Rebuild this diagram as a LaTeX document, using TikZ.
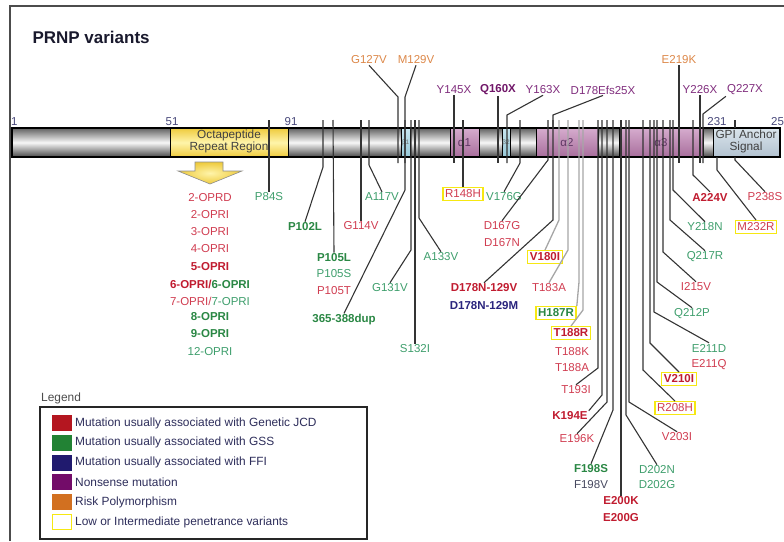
\documentclass[tikz,border=0pt]{standalone}
\usepackage{fontspec}
\setmainfont{Liberation Sans}
\usetikzlibrary{positioning}

\definecolor{jcdred}{RGB}{208,60,80}
\definecolor{jcddark}{RGB}{192,28,48}
\definecolor{gssgreen}{RGB}{62,158,108}
\definecolor{gssdark}{RGB}{42,135,68}
\definecolor{ffiblue}{RGB}{42,36,125}
\definecolor{nonpurple}{RGB}{128,45,125}
\definecolor{nondark}{RGB}{112,22,104}
\definecolor{riskorange}{RGB}{220,135,72}
\definecolor{penyellow}{RGB}{246,232,18}
\definecolor{leadgray}{RGB}{52,52,52}
\definecolor{numblue}{RGB}{72,72,122}
\definecolor{f198grey}{RGB}{70,72,95}
\definecolor{octgold}{RGB}{238,202,60}
\definecolor{octlight}{RGB}{255,244,170}
\definecolor{alphatop}{RGB}{214,172,206}
\definecolor{alphabot}{RGB}{168,110,156}
\definecolor{alphatext}{RGB}{95,55,100}
\definecolor{betatop}{RGB}{200,230,240}
\definecolor{betabot}{RGB}{150,200,215}
\definecolor{gpitop}{RGB}{218,228,235}
\definecolor{gpibot}{RGB}{178,194,208}
\definecolor{legtext}{RGB}{45,45,90}
\definecolor{swjcd}{RGB}{180,22,32}
\definecolor{swgss}{RGB}{34,130,52}
\definecolor{swffi}{RGB}{32,26,110}
\definecolor{swnon}{RGB}{115,12,105}
\definecolor{swrisk}{RGB}{210,112,32}

\newcommand\mutfont{\fontsize{11.5}{13}\selectfont}
\newcommand\legfont{\fontsize{11.9}{13}\selectfont}

\begin{document}
\begin{tikzpicture}[x=1pt,y=-1pt,
    mut/.style={font=\mutfont, inner sep=1pt},
    jcd/.style={mut, text=jcdred},
    jcdb/.style={mut, text=jcddark, font=\mutfont\bfseries},
    gss/.style={mut, text=gssgreen},
    gssb/.style={mut, text=gssdark, font=\mutfont\bfseries},
    ffib/.style={mut, text=ffiblue, font=\mutfont\bfseries},
    non/.style={mut, text=nonpurple},
    nonb/.style={mut, text=nondark, font=\mutfont\bfseries},
    risk/.style={mut, text=riskorange},
    pen/.style={draw=penyellow, line width=1.4pt, fill=white, inner sep=2.2pt},
    lead/.style={leadgray, line width=1.1pt},
    soft/.style={black!35, line width=1.3pt},
    num/.style={font=\mutfont, text=numblue, inner sep=0pt}]
    \useasboundingbox (0,0) rectangle (784,541);
    % Ramme og titel
    \draw[line width=1.6pt, black!70] (10,541) -- (10,6) -- (784,6);
    \node[font=\fontsize{17}{20}\selectfont\bfseries, anchor=west, text={rgb,255:red,25;green,25;blue,45}] (title) at (29,37) {PRNP variants};

    % Proteinet som bjaelke
    \shade[top color=black!62, bottom color=black!72, middle color=black!3] (12,128) rectangle (780,157);
    \shadedraw[top color=octgold, bottom color=octgold, middle color=octlight, draw=black] (170,128) rectangle (288,157);
    \shadedraw[top color=betatop, bottom color=betabot, draw=black] (401,128) rectangle (410,157);
    \shadedraw[top color=alphatop, bottom color=alphabot, draw=black] (450,128) rectangle (479,157);
    \shadedraw[top color=betatop, bottom color=betabot, draw=black] (502,128) rectangle (510,157);
    \shadedraw[top color=alphatop, bottom color=alphabot, draw=black] (536,128) rectangle (598,157);
    \shadedraw[top color=alphatop, bottom color=alphabot, draw=black] (619,128) rectangle (703,157);
    \shadedraw[top color=gpitop, bottom color=gpibot, draw=black] (713,128) rectangle (780,157);
    \draw[line width=1.1pt] (12,128) rectangle (780,157);
    \node[font=\fontsize{11.8}{12.5}\selectfont, align=center, text=black!75, inner sep=0pt] (octa) at (229,141.5) {Octapeptide\\Repeat Region};
    \node[font=\fontsize{11.8}{12.5}\selectfont, align=center, text=black!75, inner sep=0pt] (gpi) at (746,141.5) {GPI Anchor\\Signal};
    \node[font=\fontsize{6.5}{7}\selectfont, text=black!55, inner sep=0pt] (b1) at (405.5,142.5) {β1};
    \node[font=\fontsize{6.5}{7}\selectfont, text=black!55, inner sep=0pt] (b2) at (506,142.5) {β2};
    \node[font=\mutfont, text=alphatext, inner sep=0pt] (a1) at (464.5,142.5) {α1};
    \node[font=\mutfont, text=alphatext, inner sep=0pt] (a2) at (567,142.5) {α2};
    \node[font=\mutfont, text=alphatext, inner sep=0pt] (a3) at (661,142.5) {α3};

    % Positioner
    \node[num, anchor=west] (n1) at (11,122) {1};
    \node[num] (n51) at (172,122) {51};
    \node[num] (n91) at (291,122) {91};
    \node[num] (n231) at (717,122) {231};
    \node[num, anchor=west] (n253) at (771,122) {253};

    % Octapeptid-pil og repeats
    \shadedraw[inner color=octlight, outer color=octgold, draw=black!45, line width=0.6pt] (195,162) -- (223,162) -- (223,171) -- (242,171) -- (210,184) -- (178,171) -- (195,171) -- cycle;
    \node[jcd] (opr2d) at (210,198) {2-OPRD};
    \node[jcd] (opr2) at (210,215) {2-OPRI};
    \node[jcd] (opr3) at (210,232) {3-OPRI};
    \node[jcd] (opr4) at (210,249) {4-OPRI};
    \node[jcdb] (opr5) at (210,267) {5-OPRI};
    \node[mut, font=\mutfont\bfseries] (opr6) at (210,284) {\color{jcddark}6-OPRI/\color{gssdark}6-OPRI};
    \node[mut] (opr7) at (210,301) {\color{jcdred}7-OPRI/\color{gssgreen}7-OPRI};
    \node[gssb] (opr8) at (210,317) {8-OPRI};
    \node[gssb] (opr9) at (210,334) {9-OPRI};
    \node[gss] (opr12) at (210,352) {12-OPRI};

    % Mutationer over bjaelken
    \node[risk] (g127v) at (369,60) {G127V};
    \node[risk] (m129v) at (416,60) {M129V};
    \node[risk] (e219k) at (679,60) {E219K};
    \node[non] (y145x) at (454,90) {Y145X};
    \node[nonb] (q160x) at (498,90) {Q160X};
    \node[non] (y163x) at (543,90) {Y163X};
    \node[non] (d178x) at (603,90) {D178Efs25X};
    \node[non] (y226x) at (700,90) {Y226X};
    \node[non] (q227x) at (745,90) {Q227X};

    % Mutationer under bjaelken
    \node[gss] (p84s) at (269,197) {P84S};
    \node[gssb] (p102l) at (305,227) {P102L};
    \node[gssb] (p105l) at (334,258) {P105L};
    \node[gss] (p105s) at (334,274) {P105S};
    \node[jcd] (p105t) at (334,291) {P105T};
    \node[jcd] (g114v) at (361,226) {G114V};
    \node[gss] (a117v) at (382,197) {A117V};
    \node[gssb] (dup) at (344,320) {365-388dup};
    \node[gss] (g131v) at (390,288) {G131V};
    \node[gss] (s132i) at (415,349) {S132I};
    \node[gss] (a133v) at (441,257) {A133V};
    \node[jcd, pen] (r148h) at (463,194) {R148H};
    \node[gss] (v176g) at (504,197) {V176G};
    \node[jcd] (d167g) at (502,226) {D167G};
    \node[jcd] (d167n) at (502,243) {D167N};
    \node[jcdb] (d178v) at (484,288) {D178N-129V};
    \node[ffib] (d178m) at (484,306) {D178N-129M};
    \node[jcdb, pen] (v180i) at (545,257) {V180I};
    \node[jcd] (t183a) at (549,288) {T183A};
    \node[gssb, pen] (h187r) at (556,313) {H187R};
    \node[jcdb, pen] (t188r) at (571,333) {T188R};
    \node[jcd] (t188k) at (572,352) {T188K};
    \node[jcd] (t188a) at (572,368) {T188A};
    \node[jcd] (t193i) at (576,390) {T193I};
    \node[jcdb] (k194e) at (570,416) {K194E};
    \node[jcd] (e196k) at (577,439) {E196K};
    \node[gssb] (f198s) at (591,469) {F198S};
    \node[mut, text=f198grey] (f198v) at (591,485) {F198V};
    \node[jcdb] (e200k) at (621,501) {E200K};
    \node[jcdb] (e200g) at (621,518) {E200G};
    \node[gss] (d202n) at (657,470) {D202N};
    \node[gss] (d202g) at (657,485) {D202G};
    \node[jcd] (v203i) at (677,437) {V203I};
    \node[jcd, pen] (r208h) at (675,408) {R208H};
    \node[jcdb, pen] (v210i) at (679,379) {V210I};
    \node[gss] (e211d) at (709,348) {E211D};
    \node[jcd] (e211q) at (709,365) {E211Q};
    \node[gss] (q212p) at (692,314) {Q212P};
    \node[jcd] (i215v) at (696,287) {I215V};
    \node[gss] (q217r) at (705,257) {Q217R};
    \node[gss] (y218n) at (705,227) {Y218N};
    \node[jcdb] (a224v) at (710,197) {A224V};
    \node[jcd, pen] (m232r) at (756,227) {M232R};
    \node[jcd] (p238s) at (765,197) {P238S};

    % Steder paa bjaelken
    \foreach \n/\x in {84/269,102/323,105/333,114/361,117/369,dup/405,131/411,132/415,133/419,148/463,167/548,176/520,178/553,180/559,183/568,187/579,188/583,193/598,194/602,196/607,198/613,200/621,202/626,203/629,208/643,210/650,211/654,212/657,215/663,217/670,218/673,224/693}
      \coordinate (s\n) at (\x,120);
    \coordinate (s232) at (717,157);
    \coordinate (s238) at (735,157);
    \foreach \n/\x in {127/398,129/405,145/454,160/498,163/507,219/679,226/700,227/703}
      \coordinate (u\n) at (\x,163);
    \coordinate (u178) at (553,128);

    % Linjer opad
    \draw[lead] (g127v.south) -- (u127 |- 0,97) -- (u127);
    \draw[lead] (m129v.south) -- (u129 |- 0,97) -- (u129);
    \draw[lead] (y145x.south) -- (u145);
    \draw[lead] (q160x.south) -- (u160);
    \draw[lead] (y163x.south) -- (u163 |- 0,115) -- (u163);
    \draw[lead] (d178x.south) -- (u178 |- 0,115) -- (u178);
    \draw[lead] (e219k.south) -- (u219);
    \draw[lead] (y226x.south) -- (u226);
    \draw[lead] (q227x.south west) -- (u227 |- 0,114) -- (u227);

    % Linjer nedad
    \draw[lead] (s84) -- (p84s.north);
    \draw[lead] (s102) -- (s102 |- 0,167) -- (p102l.north);
    \draw[lead] (s105) -- (p105l.north);
    \draw[lead] (s114) -- (g114v.north);
    \draw[lead] (s117) -- (s117 |- 0,165) -- (a117v.north);
    \draw[lead] (sdup) -- (sdup |- 0,190) -- (dup.north);
    \draw[lead] (s131) -- (s131 |- 0,250) -- (g131v.north);
    \draw[lead] (s132) -- (s132i.north);
    \draw[lead] (s133) -- (s133 |- 0,218) -- (a133v.north);
    \draw[lead] (s148) -- (r148h.north);
    \draw[lead] (s176) -- (s176 |- 0,163) -- (v176g.north);
    \draw[lead] (s167) -- (s167 |- 0,160) -- (d167g.north);
    \draw[lead] (s178) -- (s178 |- 0,220) -- (d178v.north);
    \draw[soft] (s180) -- (s180 |- 0,220) -- (v180i.north);
    \draw[soft] (s183) -- (s183 |- 0,250) -- (t183a.north);
    \draw[soft] (s187) -- (s187 |- 0,282) -- (h187r.north east);
    \draw[soft] (s188) -- (s188 |- 0,310) -- (t188r.north);
    \draw[lead] (s193) -- (s193 |- 0,368) -- (t193i.north);
    \draw[lead] (s194) -- (s194 |- 0,395) -- (k194e.north east);
    \draw[lead] (s196) -- (s196 |- 0,402) -- (e196k.north);
    \draw[lead] (s198) -- (s198 |- 0,410) -- (f198s.north);
    \draw[lead] (s200) -- (e200k.north);
    \draw[lead] (s202) -- (s202 |- 0,415) -- (d202n.north);
    \draw[lead] (s203) -- (s203 |- 0,402) -- (v203i.north);
    \draw[lead] (s208) -- (s208 |- 0,370) -- (r208h.north);
    \draw[lead] (s210) -- (s210 |- 0,343) -- (v210i.north);
    \draw[lead] (s211) -- (s211 |- 0,312) -- (e211d.north);
    \draw[lead] (s212) -- (s212 |- 0,282) -- (q212p.north);
    \draw[lead] (s215) -- (s215 |- 0,252) -- (i215v.north);
    \draw[lead] (s217) -- (s217 |- 0,220) -- (q217r.north);
    \draw[lead] (s218) -- (s218 |- 0,190) -- (y218n.north);
    \draw[lead] (s224) -- (s224 |- 0,175) -- (a224v.north);
    \draw[lead] (s232) -- (s232 |- 0,170) -- (m232r.north);
    \draw[lead] (s238) -- (s238 |- 0,160) -- (p238s.north);
    \draw[lead] (s238 |- 0,120) -- (s238 |- 0,128);

    % Forklaring
    \node[font=\legfont, text=black!70, anchor=west, inner sep=0pt] (leghead) at (41,398) {Legend};
    \draw[line width=1.2pt, black!85] (40,407) rectangle (367,539);
    \foreach \f/\d/\t [count=\i from 0] in {swjcd/swjcd/Mutation usually associated with Genetic JCD,
        swgss/swgss/Mutation usually associated with GSS,
        swffi/swffi/Mutation usually associated with FFI,
        swnon/swnon/Nonsense mutation,
        swrisk/swrisk/Risk Polymorphism,
        white/penyellow/Low or Intermediate penetrance variants} {
      \draw[fill=\f, draw=\d, line width=1pt] (52,{415.5+19.8*\i}) rectangle (71,{430.5+19.8*\i});
      \node[font=\legfont, text=legtext, anchor=west, inner sep=0pt] (leg\i) at (75,{423+19.8*\i}) {\t};
    }
\end{tikzpicture}
\end{document}
